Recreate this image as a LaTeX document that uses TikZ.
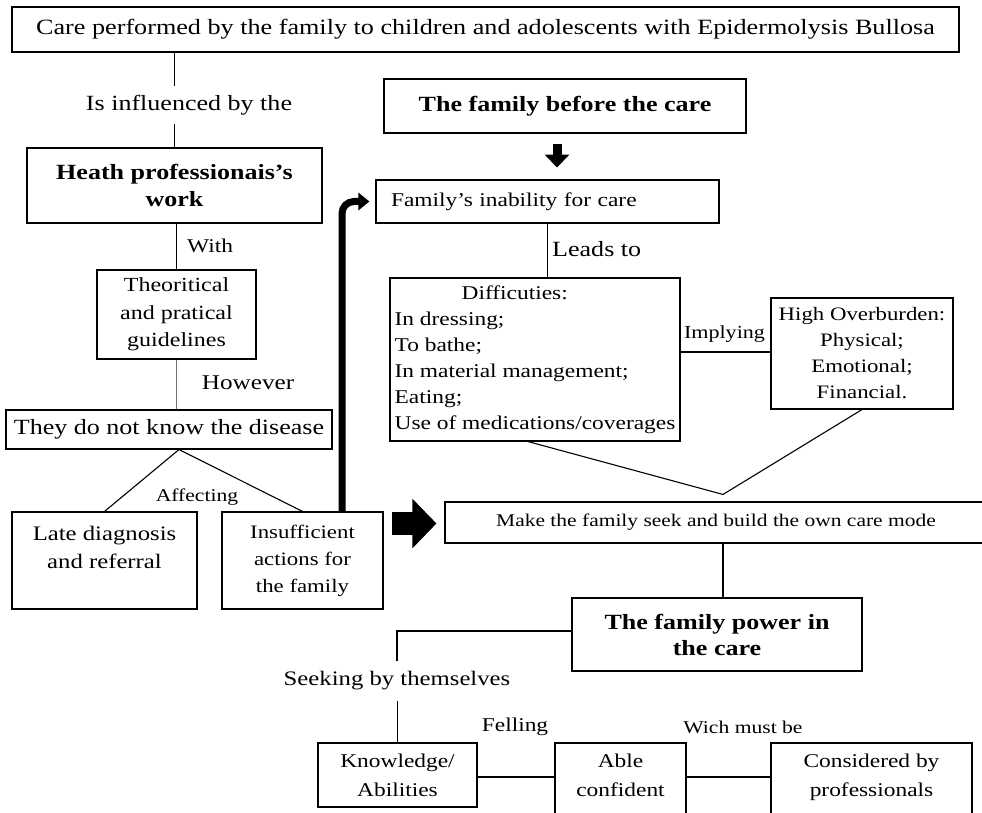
\documentclass[tikz,border=0pt]{standalone}
\usepackage{fontspec}
\setmainfont{Liberation Serif}[FakeStretch=1.2]
\usetikzlibrary{arrows.meta,calc}
\newcommand\fsz[2]{\fontsize{#1pt}{#2pt}\selectfont}
\begin{document}
\begin{tikzpicture}[x=1pt,y=-1pt,
  box/.style={draw, line width=1.1pt, inner sep=0pt, align=center},
  lab/.style={inner sep=0pt, align=center},
  con/.style={line width=1.1pt}]
\clip (0,0) rectangle (982,813);
\fill[white] (0,0) rectangle (982,813);

% boxes
\node[box, minimum width=947pt, minimum height=45pt, font=\fsz{21.8}{24}] (top) at (485.5,29.5) {Care performed by the family to children and adolescents with Epidermolysis Bullosa};
\node[box, minimum width=362pt, minimum height=54pt, font=\fsz{21.7}{24}\bfseries] (before) at (565,106) {The family before the care};
\node[box, minimum width=295pt, minimum height=75pt, font=\fsz{21.7}{27}\bfseries] (heath) at (174.5,185.5) {Heath professionais's\\work};
\node[box, minimum height=43pt, text width=313pt, inner xsep=15pt, align=left, font=\fsz{19.5}{22}] (inab) at (547.5,201.5) {Family's inability for care};
\node[box, minimum width=159pt, minimum height=89pt, font=\fsz{20}{27.5}] (theo) at (176.5,314.5) {Theoritical\\and pratical\\guidelines};
\node[box, minimum width=326pt, minimum height=39pt, font=\fsz{21.7}{24}] (dnk) at (169,429.5) {They do not know the disease};
\node[box, minimum width=185pt, minimum height=97pt, font=\fsz{20.6}{28}] (late) at (104.5,560.5) {Late diagnosis\\and referral\\[-10pt]\strut};
\node[box, minimum width=161pt, minimum height=97pt, font=\fsz{19}{27}] (insuf) at (302.5,560.5) {Insufficient\\actions for\\the family};
\node[box, minimum width=290pt, minimum height=163pt, align=left, font=\fsz{19.5}{26}] (diff) at (535,359.5) {\hspace*{67pt}Difficuties:\\In dressing;\\To bathe;\\In material management;\\Eating;\\Use of medications/coverages};
\node[box, minimum width=182pt, minimum height=111pt, font=\fsz{19}{26}] (high) at (862,353.5) {High Overburden:\\Physical;\\Emotional;\\Financial.};
\node[box, minimum width=542pt, minimum height=41pt, font=\fsz{17.9}{20}] (make) at (716,522.5) {Make the family seek and build the own care mode};
\node[box, minimum width=290pt, minimum height=73pt, font=\fsz{21.7}{26}\bfseries] (power) at (717,634.5) {The family power in\\the care};
\node[box, minimum width=159pt, minimum height=64pt, font=\fsz{19.5}{29}] (knowl) at (397.5,775) {Knowledge/\\Abilities};
\node[box, minimum width=131pt, minimum height=103pt, font=\fsz{19.5}{29}] (able) at (620.5,794.5) {Able\\confident\\\strut};
\node[box, minimum width=201pt, minimum height=103pt, font=\fsz{19.5}{29}] (consid) at (871.5,794.5) {Considered by\\professionals\\\strut};

% labels
\node[lab, minimum height=38pt, font=\fsz{21.7}{24}] (inf) at (189,105) {Is influenced by the};
\node[lab, anchor=west, font=\fsz{19.5}{22}] (with) at (187,246) {With};
\node[lab, font=\fsz{21}{24}] (however) at (248,383) {However};
\node[lab, font=\fsz{18}{20}] (affect) at (197,497) {Affecting};
\node[lab, anchor=west, font=\fsz{21.7}{24}] (leads) at (552,249) {Leads to};
\node[lab, font=\fsz{18.4}{20}] (impl) at (724.5,334) {Implying};
\node[lab, minimum height=40pt, font=\fsz{20.6}{24}] (seek) at (397,681) {Seeking by themselves};
\node[lab, font=\fsz{19.5}{22}] (fell) at (515,727) {Felling};
\node[lab, font=\fsz{18}{20}] (wich) at (743,727) {Wich must be};

% connectors
\draw[con] (top.south -| heath.north) -- (heath.north |- inf.north);
\draw[con] (inf.south -| heath.north) -- (heath.north);
\draw[con] (theo.north |- heath.south) -- (theo.north);
\draw[con, black!55, line width=0.8pt] (theo.south) -- (theo.south |- dnk.north);
\coordinate (kb) at ($(dnk.south)+(10,0)$);
\draw[con] (late.north) -- (kb) -- (insuf.north);
\draw[line width=7pt, rounded corners=12pt, -{Triangle[length=11pt,width=17pt]}, shorten >=6pt] ($(insuf.north)+(39.5,0)$) |- (inab.west);
\draw[line width=9pt, -{Triangle[length=13pt,width=24pt]}] ($(before.south)+(-8,10)$) -- ($(before.south)+(-8,34)$);
\draw[con] (inab.south) -- (inab.south |- diff.north);
\coordinate (dh) at ($(diff.east)+(0,-7.5)$);
\draw[con] (dh) -- (dh -| high.west);
\coordinate (vx) at ($(make.north)+(7,-7)$);
\draw[con] ($(diff.south)+(-7,0)$) -- (vx) -- (high.south);
\draw[line width=23pt, -{Triangle[length=24pt,width=48pt]}] ($(insuf.east)+(8,-37)$) -- ($(make.west)+(-8,1)$);
\coordinate (mp) at ($(make.south)+(7,0)$);
\draw[con] (mp) -- (mp |- power.north);
\draw[con] ($(power.west)+(0,-3.5)$) -| (seek.north);
\draw[con] (knowl.north |- seek.south) -- (knowl.north);
\coordinate (ka) at ($(knowl.east)+(0,2)$);
\draw[con] (ka) -- (ka -| able.west);
\draw[con] (ka -| able.east) -- (ka -| consid.west);
\end{tikzpicture}
\end{document}
